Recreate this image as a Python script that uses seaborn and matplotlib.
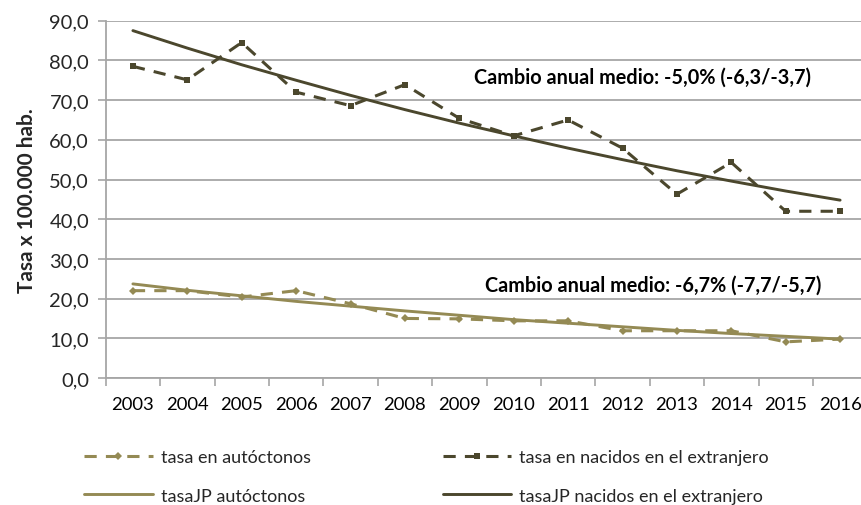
import matplotlib
matplotlib.use("Agg")
import matplotlib.pyplot as plt
import seaborn as sns
import pandas as pd
from matplotlib.lines import Line2D

years = list(range(2003, 2017))
tasa_autoctonos = [22.0, 22.0, 20.4, 22.0, 18.7, 15.0, 14.9, 14.4, 14.4, 11.9, 11.9, 11.9, 9.1, 9.8]
tasa_extranjero = [78.5, 75.1, 84.5, 72.0, 68.6, 73.9, 65.4, 61.0, 65.0, 57.9, 46.3, 54.3, 42.0, 42.0]
tasaJP_autoctonos = [23.7, 22.1, 20.7, 19.3, 18.1, 16.9, 15.8, 14.7, 13.8, 12.9, 12.0, 11.2, 10.5, 9.8]
tasaJP_extranjero = [87.5, 83.1, 78.9, 75.0, 71.2, 67.6, 64.2, 61.0, 57.9, 55.0, 52.2, 49.6, 47.1, 44.8]

labels = ["tasa en autóctonos", "tasa en nacidos en el extranjero",
          "tasaJP autóctonos", "tasaJP nacidos en el extranjero"]
ann_ext = "Cambio anual medio: -5,0% (-6,3/-3,7)"
ann_aut = "Cambio anual medio: -6,7% (-7,7/-5,7)"
ylabel = "Tasa x 100.000 hab."

c_aut = "#948A54"
c_ext = "#4B472D"
grid_c = "#A6A6A6"

sns.set_theme(style="white")
plt.rcParams['font.family'] = ['Lato', 'DejaVu Sans']

df = pd.DataFrame({
    "year": years,
    "aut": tasa_autoctonos,
    "ext": tasa_extranjero,
    "jp_aut": tasaJP_autoctonos,
    "jp_ext": tasaJP_extranjero,
})

fig = plt.figure(figsize=(8.62, 5.06), dpi=100)
ax = fig.add_axes([105.7 / 862, 127 / 506, 54.4 * 14 / 862, 357.3 / 506])

lw_d = 2.2
lw_s = 2.1
sns.lineplot(data=df, x="year", y="jp_aut", ax=ax, color=c_aut, linewidth=lw_s, zorder=3)
sns.lineplot(data=df, x="year", y="jp_ext", ax=ax, color=c_ext, linewidth=lw_s, zorder=3)
sns.lineplot(data=df, x="year", y="aut", ax=ax, color=c_aut, linewidth=lw_d,
             marker="D", markersize=4, markeredgewidth=0, zorder=4)
sns.lineplot(data=df, x="year", y="ext", ax=ax, color=c_ext, linewidth=lw_d,
             marker="s", markersize=5, markeredgewidth=0, zorder=4)
for ln in ax.get_lines()[2:4]:
    ln.set_dashes((4, 3))

ax.set_xlim(2002.5, 2016.5)
ax.set_ylim(0, 90)
ax.set_yticks(range(0, 91, 10))
ax.set_yticklabels([f"{v:.1f}".replace(".", ",") for v in range(0, 91, 10)])
ax.set_xticks(years)
ax.set_xticklabels([str(y) for y in years])
ax.set_xticks([y + 0.5 for y in range(2002, 2016)], minor=True)
ax.tick_params(axis="x", which="major", length=0, pad=13, labelsize=13.3, colors="black")
ax.tick_params(axis="x", which="minor", length=6, width=1.2, color=grid_c, direction="out", bottom=True)
ax.tick_params(axis="y", which="major", length=6, width=1.2, color=grid_c, direction="out",
               pad=6, labelsize=14.5, left=True)
ax.set_xlabel("")
ax.set_ylabel(ylabel, fontsize=15, fontweight="bold", labelpad=9)

ax.grid(axis="y", color=grid_c, linewidth=1.3, zorder=0)
ax.set_axisbelow(True)
for s in ["top", "right"]:
    ax.spines[s].set_visible(False)
for s in ["left", "bottom"]:
    ax.spines[s].set_color(grid_c)
    ax.spines[s].set_linewidth(1.3)

ax.text(2012.36, 75.8, ann_ext, ha="center", va="center", fontsize=14.3, fontweight="bold", color="black")
ax.text(2012.57, 23.4, ann_aut, ha="center", va="center", fontsize=14.3, fontweight="bold", color="black")

handles = [
    Line2D([], [], color=c_aut, linewidth=lw_d, dashes=(4, 3), marker="D", markersize=4, markeredgewidth=0),
    Line2D([], [], color=c_aut, linewidth=lw_s),
    Line2D([], [], color=c_ext, linewidth=lw_d, dashes=(4, 3), marker="s", markersize=5, markeredgewidth=0),
    Line2D([], [], color=c_ext, linewidth=lw_s),
]
fig.legend(handles, [labels[0], labels[2], labels[1], labels[3]], ncol=2,
           loc="upper left", bbox_to_anchor=(84 / 862, 1 - 450 / 506),
           frameon=False, fontsize=13, handlelength=3.8, handletextpad=0.45,
           columnspacing=7.3, labelspacing=1.25, borderpad=0, borderaxespad=0)

fig.savefig("out.png", dpi=100)
